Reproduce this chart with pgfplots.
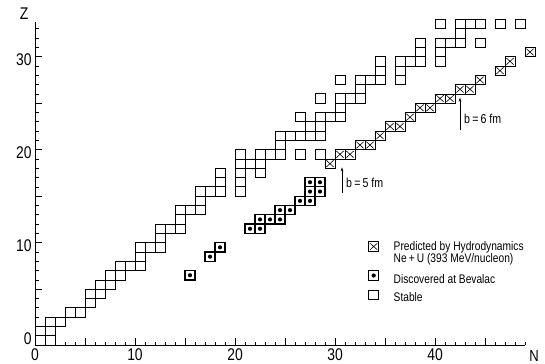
\documentclass[border=0pt]{standalone}
\usepackage{fontspec}
\setmainfont{Liberation Sans}[FakeStretch=0.82]
\usepackage{pgfplots}
\pgfplotsset{compat=1.18}
\usepackage{pgfplotstable}
\usetikzlibrary{arrows.meta}

\pgfdeclareplotmark{cellS}{%
  \pgfpathrectangle{\pgfpoint{-5bp}{-4.65bp}}{\pgfpoint{10bp}{9.3bp}}%
  \pgfusepathqstroke}
\pgfdeclareplotmark{cellX}{%
  \pgfpathrectangle{\pgfpoint{-5bp}{-4.65bp}}{\pgfpoint{10bp}{9.3bp}}%
  \pgfusepathqstroke
  \pgfsetlinewidth{0.6bp}%
  \pgfpathmoveto{\pgfpoint{-3.6bp}{-3.3bp}}\pgfpathlineto{\pgfpoint{3.6bp}{3.3bp}}%
  \pgfpathmoveto{\pgfpoint{-3.6bp}{3.3bp}}\pgfpathlineto{\pgfpoint{3.6bp}{-3.3bp}}%
  \pgfusepathqstroke}
\pgfdeclareplotmark{cellD}{%
  \pgfpathrectangle{\pgfpoint{-5bp}{-4.65bp}}{\pgfpoint{10bp}{9.3bp}}%
  \pgfusepathqstroke
  \pgfpathcircle{\pgfpointorigin}{2.1bp}%
  \pgfusepathqfill}

% stable nuclides (N, Z)
\pgfplotstableread{
N Z
1 0
0 1
1 1
1 2
2 2
3 3
4 3
5 4
5 5
6 5
6 6
7 6
7 7
8 7
8 8
9 8
10 8
10 9
10 10
11 10
12 10
12 11
12 12
13 12
14 12
14 13
14 14
15 14
16 14
16 15
16 16
17 16
18 16
20 16
18 17
20 17
18 18
20 18
22 18
20 19
21 19
22 19
20 20
22 20
23 20
24 20
26 20
28 20
24 21
24 22
25 22
26 22
27 22
28 22
27 23
28 23
26 24
28 24
29 24
30 24
30 25
28 26
30 26
31 26
32 26
32 27
30 28
32 28
33 28
34 28
36 28
34 29
36 29
34 30
36 30
37 30
38 30
40 30
38 31
40 31
38 32
40 32
41 32
42 32
44 32
42 33
40 34
42 34
43 34
44 34
46 34
48 34
}\stable

% discovered at Bevalac (N, Z)
\pgfplotstableread{
N Z
15 7
17 9
18 10
21 12
22 12
22 13
23 13
24 13
24 14
25 14
26 15
27 15
27 16
28 16
27 17
28 17
}\discovered

% predicted by hydrodynamics (N, Z)
\pgfplotstableread{
N Z
29 19
30 20
31 20
32 21
33 21
34 22
35 23
36 23
37 24
38 25
39 25
40 26
41 26
42 27
43 27
44 28
46 29
47 30
49 31
}\predicted

\begin{document}
\begin{tikzpicture}
\begin{axis}[
  name=ax,
  x=10bp, y=9.3bp,
  xmin=0, xmax=49, ymin=-1, ymax=33.7,
  axis lines*=left,
  axis line style={line width=0.8bp},
  clip=false,
  xtick={0,10,20,30,40},
  ytick={0,10,20,30},
  extra x ticks={5,15,25,35,45}, extra x tick labels={},
  extra y ticks={5,15,25}, extra y tick labels={},
  minor xtick={1,...,49},
  minor ytick={1,...,33},
  tick align=inside,
  major tick length=7bp, minor tick length=3.5bp,
  tick style={line width=0.7bp, black},
  ticklabel style={font=\fontsize{17}{17}\selectfont},
  yticklabel style={yshift=-3bp},
  /pgf/number format/assume math mode=true,
  legend style={at={(axis cs:32.7,10.5)}, anchor=north west, draw=none, fill=none,
    font=\fontsize{12.5}{12.5}\selectfont, nodes={inner sep=1bp}, column sep=14bp},
  legend cell align=left,
]
\addlegendimage{only marks, mark=cellX, mark options={line width=0.9bp}}
\addlegendentry{\rule[-3bp]{0pt}{12bp}Predicted by Hydrodynamics}
\addlegendimage{empty legend}
\addlegendentry{\rule[-3bp]{0pt}{12bp}Ne\,+\,U (393 MeV/nucleon)}
\addlegendimage{only marks, mark=cellD, mark options={line width=1.2bp}}
\addlegendentry{\rule[-3bp]{0pt}{20bp}Discovered at Bevalac}
\addlegendimage{only marks, mark=cellS, mark options={line width=0.8bp}}
\addlegendentry{\rule[-3bp]{0pt}{18bp}Stable}

\addplot[forget plot, only marks, mark=cellS, mark options={line width=0.8bp}]
  table[x expr=\thisrow{N}+0.5, y expr=\thisrow{Z}-0.5] {\stable};
\addplot[forget plot, only marks, mark=cellD, mark options={line width=1.2bp}]
  table[x expr=\thisrow{N}+0.5, y expr=\thisrow{Z}-0.5] {\discovered};
\addplot[forget plot, only marks, mark=cellX, mark options={line width=0.9bp}]
  table[x expr=\thisrow{N}+0.5, y expr=\thisrow{Z}-0.5] {\predicted};

\draw[line width=0.7bp, -{Stealth[length=4bp,width=2.6bp]}] (axis cs:30.7,15.3) -- (axis cs:30.7,18.1);
\node[anchor=west, inner sep=0, font=\fontsize{13}{13}\selectfont] at (axis cs:31.1,16.4) {b\,=\,5 fm};
\draw[line width=0.7bp, -{Stealth[length=4bp,width=2.6bp]}] (axis cs:42.5,22.1) -- (axis cs:42.5,25.6);
\node[anchor=west, inner sep=0, font=\fontsize{13}{13}\selectfont] at (axis cs:42.9,23.3) {b\,=\,6 fm};

\node[inner sep=0, font=\fontsize{16}{16}\selectfont] at (axis cs:49.9,-2.2) {N};
\node[inner sep=0, font=\fontsize{17}{17}\selectfont] at (axis cs:-1.1,34.6) {Z};
\end{axis}
\pgfresetboundingbox
\path ([xshift=-35bp,yshift=-19bp]ax.south west) rectangle ([xshift=510bp,yshift=345bp]ax.south west);
\end{tikzpicture}
\end{document}
